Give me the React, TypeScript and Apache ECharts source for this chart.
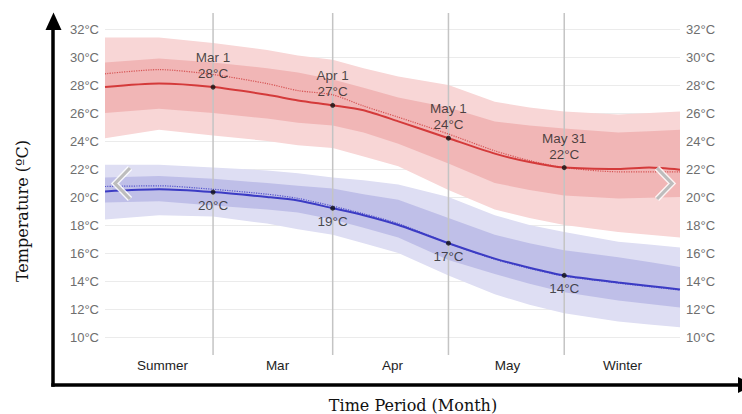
import React, { useEffect, useRef } from 'react';
import * as echarts from 'echarts';

// Day index counted from Feb 1 (Mar 1 = 28, Apr 1 = 59, May 1 = 89, May 31 = 119)
const days = [0, 14, 28, 42, 50, 59, 67, 76, 89, 101, 110, 119, 133, 141, 149];

// Daily high temperature (°C)
const hiP90 = [31.4, 31.4, 31.0, 30.5, 30.1, 29.8, 29.2, 28.6, 28.0, 26.8, 26.4, 26.1, 25.9, 26.0, 26.1];
const hiP75 = [29.6, 29.9, 29.6, 29.2, 28.9, 28.4, 27.8, 27.1, 26.4, 25.4, 25.1, 24.9, 24.6, 24.7, 24.8];
const hiFeel = [28.8, 29.1, 28.75, 28.1, 27.6, 27.3, 26.5, 25.7, 24.5, 23.3, 22.6, 22.1, 21.8, 21.8, 21.8];
const hiMean = [27.85, 28.1, 27.85, 27.3, 26.9, 26.55, 26.2, 25.4, 24.2, 23.1, 22.5, 22.1, 22.0, 22.1, 21.95];
const hiP25 = [26.0, 26.3, 26.0, 25.6, 25.3, 25.1, 24.6, 23.8, 22.4, 21.0, 20.5, 20.1, 19.9, 19.95, 20.0];
const hiP10 = [24.2, 24.8, 24.4, 24.0, 23.7, 23.5, 22.9, 22.2, 20.5, 19.1, 18.5, 18.0, 17.5, 17.3, 17.1];

// Daily low temperature (°C)
const loP90 = [22.3, 22.3, 22.1, 21.9, 21.7, 21.4, 21.2, 20.9, 20.0, 18.7, 18.0, 17.5, 16.8, 16.6, 16.4];
const loP75 = [21.4, 21.5, 21.3, 21.0, 20.8, 20.6, 20.2, 19.8, 18.5, 17.3, 16.7, 16.2, 15.7, 15.35, 15.0];
const loFeel = [20.75, 20.8, 20.55, 20.2, 19.9, 19.35, 18.8, 18.1, 16.7, 15.55, 14.9, 14.35, 13.85, 13.6, 13.35];
const loMean = [20.4, 20.55, 20.35, 20.0, 19.75, 19.2, 18.7, 18.0, 16.7, 15.6, 14.95, 14.4, 13.9, 13.65, 13.4];
const loP25 = [19.6, 19.7, 19.4, 19.1, 18.9, 18.4, 17.8, 17.1, 15.5, 14.5, 13.8, 13.2, 12.6, 12.35, 12.1];
const loP10 = [18.4, 18.7, 18.6, 18.1, 17.7, 17.3, 16.7, 16.0, 14.4, 13.05, 12.3, 11.7, 11.1, 10.9, 10.7];

const periodLabels = ['Summer', 'Mar', 'Apr', 'May', 'Winter'];
const markerDays = [28, 59, 89, 119];
const markerDates = ['Mar 1', 'Apr 1', 'May 1', 'May 31'];
const hiRounded = [28, 27, 24, 22];
const loRounded = [20, 19, 17, 14];

const yMin = 10;
const yMax = 32;
const yStep = 2;

const SANS = 'Liberation Sans, Arial, Helvetica, sans-serif';
const SERIF = 'DejaVu Serif, serif';

const pairs = (vals: number[]) => days.map((d, i) => [d, vals[i]]);

const bands = [
  { lower: hiP10, upper: hiP90, color: '#f8d6d6' },
  { lower: hiP25, upper: hiP75, color: '#f1b6b6' },
  { lower: loP10, upper: loP90, color: '#dedef3' },
  { lower: loP25, upper: loP75, color: '#bfbfe8' },
];

function line(name: string, vals: number[], color: string, width: number, type: string) {
  return {
    name,
    type: 'line',
    data: pairs(vals),
    symbol: 'none',
    showSymbol: false,
    smooth: 0.25,
    silent: true,
    z: 3,
    lineStyle: { color, width, type },
  };
}

export default function App() {
  const ref = useRef<HTMLDivElement>(null);

  useEffect(() => {
    if (!ref.current) return;
    const chart = echarts.init(ref.current, undefined, { renderer: 'svg' });

    const hiMarkers = markerDays.map((d) => [d, hiMean[days.indexOf(d)]]);
    const loMarkers = markerDays.map((d) => [d, loMean[days.indexOf(d)]]);

    const yAxisCommon = {
      type: 'value',
      min: yMin,
      max: yMax,
      interval: yStep,
      axisLine: { show: false },
      axisTick: { show: false },
      axisLabel: {
        formatter: '{value}°C',
        color: '#6e6e6e',
        fontSize: 13,
        fontFamily: SANS,
        margin: 6,
      },
    };

    const chevron = (pts: number[][]) => [
      {
        type: 'polyline',
        z: 100,
        shape: { points: pts },
        style: { stroke: 'rgba(255,255,255,0.85)', lineWidth: 6, fill: null, lineJoin: 'miter' },
      },
      {
        type: 'polyline',
        z: 101,
        shape: { points: pts },
        style: { stroke: '#bdbdbd', lineWidth: 3.2, fill: null, lineJoin: 'miter' },
      },
    ];

    chart.setOption({
      animation: false,
      grid: { left: 105, right: 62, top: 29, bottom: 77, containLabel: false },
      xAxis: [
        {
          type: 'value',
          min: days[0],
          max: days[days.length - 1],
          show: false,
        },
        {
          type: 'category',
          data: periodLabels,
          position: 'bottom',
          boundaryGap: true,
          axisLine: { show: false },
          axisTick: { show: false },
          splitLine: { show: false },
          axisLabel: { color: '#1e1e1e', fontSize: 13.5, fontFamily: SANS, margin: 21 },
        },
      ],
      yAxis: [
        {
          ...yAxisCommon,
          position: 'left',
          splitLine: { show: true, lineStyle: { color: '#ebebeb', width: 1 } },
        },
        {
          ...yAxisCommon,
          position: 'right',
          splitLine: { show: false },
        },
      ],
      series: [
        {
          name: 'bands',
          type: 'custom',
          data: bands.map((_b, k) => [days[0], bands[k].lower[0]]),
          encode: { x: 0, y: 1 },
          clip: true,
          silent: true,
          z: 1,
          renderItem: (params: any, api: any) => {
            const b = bands[params.dataIndex];
            const top = days.map((d, i) => api.coord([d, b.upper[i]]));
            const bot = days.map((d, i) => api.coord([d, b.lower[i]])).reverse();
            return {
              type: 'polygon',
              shape: { points: top.concat(bot) },
              style: { fill: b.color, stroke: null },
            };
          },
        },
        {
          name: 'months',
          type: 'custom',
          data: markerDays.map((d) => [d, yMin]),
          encode: { x: 0, y: 1 },
          clip: false,
          silent: true,
          z: 2,
          renderItem: (_params: any, api: any) => {
            const x = api.value(0);
            const top = api.coord([x, yMax]);
            const bot = api.coord([x, yMin]);
            return {
              type: 'line',
              shape: { x1: top[0], y1: top[1] - 16, x2: bot[0], y2: bot[1] + 18 },
              style: { stroke: '#c4c4c4', lineWidth: 1.5 },
            };
          },
        },
        line('hiFeel', hiFeel, '#d65454', 1.2, 'dotted'),
        line('hiMean', hiMean, '#d43a3a', 2, 'solid'),
        line('loFeel', loFeel, '#5555cc', 1.2, 'dotted'),
        line('loMean', loMean, '#3b3bc4', 2, 'solid'),
        {
          name: 'hiMarkers',
          type: 'scatter',
          data: hiMarkers,
          symbolSize: 5,
          itemStyle: { color: '#111' },
          silent: true,
          z: 4,
          label: {
            show: true,
            position: 'top',
            distance: 3,
            color: '#1e1e1e',
            fontSize: 13.5,
            fontFamily: SANS,
            lineHeight: 16,
            formatter: (p: any) => `${markerDates[p.dataIndex]}\n${hiRounded[p.dataIndex]}°C`,
          },
        },
        {
          name: 'loMarkers',
          type: 'scatter',
          data: loMarkers,
          symbolSize: 5,
          itemStyle: { color: '#111' },
          silent: true,
          z: 4,
          label: {
            show: true,
            position: 'bottom',
            distance: 3,
            color: '#1e1e1e',
            fontSize: 13.5,
            fontFamily: SANS,
            lineHeight: 16,
            formatter: (p: any) => `${loRounded[p.dataIndex]}°C`,
          },
        },
      ],
      graphic: [
        {
          type: 'line',
          z: 100,
          shape: { x1: 53, y1: 27, x2: 53, y2: 386.7 },
          style: { stroke: '#000', lineWidth: 3.5 },
        },
        {
          type: 'polygon',
          z: 100,
          shape: { points: [[53.5, 12.5], [45.5, 30], [61.5, 30]] },
          style: { fill: '#000' },
        },
        {
          type: 'line',
          z: 100,
          shape: { x1: 51.3, y1: 385, x2: 740, y2: 385 },
          style: { stroke: '#000', lineWidth: 3.5 },
        },
        {
          type: 'polygon',
          z: 100,
          shape: { points: [[738, 377], [754, 385], [738, 393]] },
          style: { fill: '#000' },
        },
        ...chevron([[130, 168], [115, 183.5], [130, 199]]),
        ...chevron([[657, 168], [672, 183.5], [657, 199]]),
        {
          type: 'text',
          z: 100,
          x: 22,
          y: 211,
          rotation: Math.PI / 2,
          style: {
            text: 'Temperature (ºC)',
            fill: '#111',
            font: `16px ${SERIF}`,
            textAlign: 'center',
            textVerticalAlign: 'middle',
          },
        },
        {
          type: 'text',
          z: 100,
          x: 413,
          y: 405,
          style: {
            text: 'Time Period (Month)',
            fill: '#111',
            font: `16px ${SERIF}`,
            textAlign: 'center',
            textVerticalAlign: 'middle',
          },
        },
      ],
    });

    return () => {
      chart.dispose();
    };
  }, []);

  return (
    <div
      ref={ref}
      style={{ position: 'fixed', left: 0, top: 0, width: 742, height: 414, background: '#fff' }}
    />
  );
}
